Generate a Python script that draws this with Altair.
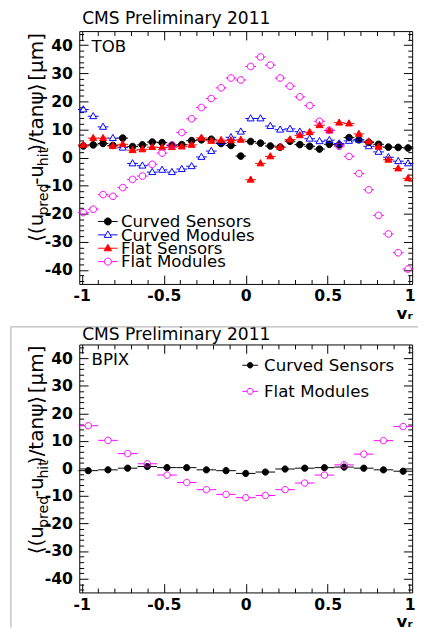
import altair as alt
import pandas as pd

# ---------------- data ----------------
series_top = ["Curved Sensors", "Curved Modules", "Flat Sensors", "Flat Modules"]
x_top = [-0.99, -0.93, -0.87, -0.81, -0.75, -0.69, -0.63, -0.57, -0.51, -0.45,
         -0.39, -0.33, -0.27, -0.21, -0.15, -0.09, -0.03, 0.03, 0.09, 0.15,
         0.21, 0.27, 0.33, 0.39, 0.45, 0.51, 0.57, 0.63, 0.69, 0.75,
         0.81, 0.87, 0.93, 0.99]
curved_sensors_top = [4.1, 4.5, 5.0, 4.3, 6.9, 3.9, 4.5, 5.5, 5.3, 4.3,
                      4.6, 6.0, 6.3, 6.5, 5.0, 4.3, 0.5, 5.7, 5.1, 4.1,
                      3.7, 5.8, 4.6, 4.0, 3.0, 4.7, 4.5, 7.1, 6.3, 5.4,
                      4.7, 3.7, 3.6, 3.4]
curved_modules_top = [17.1, 14.7, 10.9, 6.9, 3.5, -2.1, -2.9, -5.2, -4.4, -5.2,
                      -4.1, -3.1, 0.2, 2.3, 5.5, 7.2, 9.2, 13.9, 13.9, 11.2,
                      9.9, 10.2, 9.2, 6.7, 5.8, 6.2, 5.0, 5.9, 6.3, 4.0,
                      2.0, 0.1, -1.3, -2.1]
flat_sensors_top = [4.5, 6.9, 6.9, 4.1, 4.7, 2.6, 2.9, 3.7, 3.6, 3.7,
                    3.9, 4.5, 7.0, 5.9, 6.2, 6.1, 6.3, -7.9, -2.1, 0.4,
                    3.7, 6.4, 7.9, 9.0, 11.5, 9.6, 12.4, 12.1, 8.4, 5.7,
                    3.8, -0.8, -3.9, -7.4]
flat_modules_top = [-19.6, -18.4, -13.2, -13.8, -10.7, -7.8, -6.6, -2.4, 1.6, 4.5,
                    8.9, 13.8, 17.8, 21.0, 24.8, 28.3, 27.6, 32.4, 35.8, 32.9,
                    28.3, 25.4, 21.6, 18.5, 12.9, 9.7, 4.0, 0.4, -5.7, -11.5,
                    -20.6, -27.2, -33.9, -39.7]

series_bot = ["Curved Sensors", "Flat Modules"]
x_bot = [-0.96, -0.84, -0.72, -0.60, -0.48, -0.36, -0.24, -0.12, 0.0,
         0.12, 0.24, 0.36, 0.48, 0.60, 0.72, 0.84, 0.96]
curved_sensors_bot = [-0.8, -0.5, 0.1, 0.7, 0.3, 0.3, -0.5, -0.8, -1.8,
                      -1.3, -0.2, 0.1, 0.3, 0.5, 0.1, -0.5, -1.0]
flat_modules_bot = [15.5, 10.2, 5.4, 1.7, -2.4, -5.1, -7.7, -9.4, -10.6,
                    -9.8, -7.7, -5.3, -2.4, 1.3, 5.2, 10.1, 15.2]

x_label_values = [-1, -0.5, 0, 0.5, 1]
y_label_values = [-40, -30, -20, -10, 0, 10, 20, 30, 40]
x_tick_values = [-1.0, -0.9, -0.8, -0.7, -0.6, -0.5, -0.4, -0.3, -0.2, -0.1, 0.0,
                 0.1, 0.2, 0.3, 0.4, 0.5, 0.6, 0.7, 0.8, 0.9, 1.0]
y_tick_values = [-44, -42, -40, -38, -36, -34, -32, -30, -28, -26, -24, -22, -20,
                 -18, -16, -14, -12, -10, -8, -6, -4, -2, 0, 2, 4, 6, 8, 10, 12,
                 14, 16, 18, 20, 22, 24, 26, 28, 30, 32, 34, 36, 38, 40, 42, 44]

title_text = "CMS Preliminary 2011"
y_title_pieces = [("⟨(u", False), ("pred", True), ("-u", False), ("hit", True),
                  (")/tanψ⟩", False), (" [µm]", False)]


def long_df(xs, names, cols):
    rows = []
    for name, vals in zip(names, cols):
        for xv, yv in zip(xs, vals):
            rows.append({"v": xv, "val": yv, "series": name})
    return pd.DataFrame(rows)


df_top = long_df(x_top, series_top,
                 [curved_sensors_top, curved_modules_top, flat_sensors_top, flat_modules_top])
df_bot = long_df(x_bot, series_bot, [curved_sensors_bot, flat_modules_bot])

# ---------------- styling helpers ----------------
W = 341
H_TOP = 259
H_BOT = 254
FONT = "DejaVu Sans"
XS = alt.Scale(domain=[-1.015, 1.015], nice=False, zero=False)
YS = alt.Scale(domain=[-45, 45], nice=False, zero=False)


def circle_path(r):
    return (f"M-1,0L{-r},0M{r},0L1,0"
            f"M{-r},0A{r},{r},0,1,0,{r},0A{r},{r},0,1,0,{-r},0Z")


def triangle_path(top, bottom, half):
    cut = half * top / (top + bottom)
    return (f"M-1,0L{-cut:.3f},0M{cut:.3f},0L1,0"
            f"M0,{-top}L{half},{bottom}L{-half},{bottom}Z")


CW = {"⟨": 0.39, "⟩": 0.39, "(": 0.39, ")": 0.39, "u": 0.634, "-": 0.361,
      "/": 0.337, "t": 0.392, "a": 0.613, "n": 0.634, "ψ": 0.70, " ": 0.318,
      "[": 0.39, "]": 0.39, "µ": 0.636, "m": 0.974, "p": 0.635, "r": 0.411,
      "e": 0.615, "d": 0.635, "h": 0.634, "i": 0.278}


def tick_axis(orient, offset, values, test):
    return alt.Axis(orient=orient, offset=offset, values=values, labels=False,
                    domain=False, grid=False, ticks=True, title=None,
                    tickColor="black", tickWidth=1,
                    tickSize={"condition": {"test": test, "value": 9}, "value": 4.5})


def text_layer(txt, px, py, size=17, weight="normal"):
    return alt.Chart(pd.DataFrame({"t": [txt]})).mark_text(
        font=FONT, fontSize=size, fontWeight=weight, align="left",
        baseline="alphabetic", color="black"
    ).encode(text="t:N", x=alt.value(px), y=alt.value(py))


def panel(df, names, colors, fills, paths, size, leg, label, H, title_y, ytitle_end):
    xt = "abs(datum.value*2 - round(datum.value*2)) < 0.001"
    yt = "abs(datum.value % 10) < 0.001"
    x_axis = alt.Axis(orient="bottom", values=x_label_values, ticks=False, domain=False,
                      grid=False, labelFont=FONT, labelFontWeight="bold", labelFontSize=16,
                      labelColor="black", labelPadding=4, labelFlush=False,
                      labelExpr="'' + datum.value", title="vᵣ", titleFont=FONT,
                      titleFontWeight="bold", titleFontSize=17, titleColor="black",
                      titleAnchor="end", titleAlign="right", titlePadding=2)
    y_axis = alt.Axis(orient="left", values=y_label_values, ticks=False, domain=False,
                      grid=False, labelFont=FONT, labelFontWeight="bold", labelFontSize=16,
                      labelColor="black", labelPadding=7, labelFlush=False,
                      labelExpr="'' + datum.value", title=None)
    pts = alt.Chart(df).mark_point(opacity=1, fillOpacity=1, strokeWidth=1).encode(
        x=alt.X("v:Q", scale=XS, axis=x_axis),
        y=alt.Y("val:Q", scale=YS, axis=y_axis),
        shape=alt.Shape("series:N", scale=alt.Scale(domain=names, range=paths), legend=None),
        stroke=alt.Stroke("series:N", scale=alt.Scale(domain=names, range=colors), legend=None),
        fill=alt.Fill("series:N", scale=alt.Scale(domain=names, range=fills), legend=None),
        size=alt.value(size),
    )
    base = alt.Chart(df).mark_point(opacity=0, size=1)
    helpers = [
        base.encode(x=alt.X("v:Q", scale=XS, axis=None),
                    y=alt.Y("val:Q", scale=YS, axis=tick_axis("right", -W, y_tick_values, yt))),
        base.encode(x=alt.X("v:Q", scale=XS, axis=None),
                    y=alt.Y("val:Q", scale=YS, axis=tick_axis("left", -W, y_tick_values, yt))),
        base.encode(x=alt.X("v:Q", scale=XS, axis=tick_axis("top", -H, x_tick_values, xt)),
                    y=alt.Y("val:Q", scale=YS, axis=None)),
        base.encode(x=alt.X("v:Q", scale=XS, axis=tick_axis("bottom", -H, x_tick_values, xt)),
                    y=alt.Y("val:Q", scale=YS, axis=None)),
    ]

    # legend: marker-with-line symbols and labels, one row per series
    leg_df = pd.DataFrame({"series": names, "ly": leg["rows"]})
    leg_sym = alt.Chart(leg_df).mark_point(opacity=1, fillOpacity=1, strokeWidth=1).encode(
        x=alt.value(leg["sx"]),
        y=alt.Y("ly:Q", scale=None, axis=None),
        shape=alt.Shape("series:N", scale=alt.Scale(domain=names, range=leg["paths"]), legend=None),
        stroke=alt.Stroke("series:N", scale=alt.Scale(domain=names, range=colors), legend=None),
        fill=alt.Fill("series:N", scale=alt.Scale(domain=names, range=fills), legend=None),
        size=alt.value(leg["size"]),
    )
    leg_txt = alt.Chart(leg_df).mark_text(
        font=FONT, fontSize=17, align="left", baseline="middle", color="black", dy=1
    ).encode(text="series:N", x=alt.value(leg["tx"]), y=alt.Y("ly:Q", scale=None, axis=None))

    # panel label (TOB / BPIX) placed in the upper-left corner of the frame
    lab = alt.Chart(pd.DataFrame({"t": [label]})).mark_text(
        font=FONT, fontSize=17, align="left", baseline="alphabetic", color="black"
    ).encode(text="t:N",
             x=alt.X(datum=-0.94, scale=XS, axis=None),
             y=alt.Y(datum=37.5, scale=YS, axis=None))
    ttl = text_layer(title_text, 3, title_y, size=17.5)

    # y title with subscripts, built from pieces running bottom-to-top
    main_fs, sub_fs = 20.5, 14.5
    widths = [sum(CW.get(c, 0.6) for c in s) * (sub_fs if sub else main_fs) * 0.93
              for s, sub in y_title_pieces]
    rows_main, rows_sub = [], []
    for k, (s, sub) in enumerate(y_title_pieces):
        anchor = ytitle_end + sum(widths[k + 1:])
        (rows_sub if sub else rows_main).append({"t": s, "py": anchor})
    ttl_main = alt.Chart(pd.DataFrame(rows_main)).mark_text(
        font=FONT, fontSize=main_fs, angle=270, align="right", baseline="alphabetic",
        color="black"
    ).encode(text="t:N", y=alt.Y("py:Q", scale=None, axis=None), x=alt.value(-37))
    ttl_sub = alt.Chart(pd.DataFrame(rows_sub)).mark_text(
        font=FONT, fontSize=sub_fs, angle=270, align="right", baseline="alphabetic",
        color="black"
    ).encode(text="t:N", y=alt.Y("py:Q", scale=None, axis=None), x=alt.value(-32))

    return [pts] + helpers + [leg_sym, leg_txt, lab, ttl, ttl_main, ttl_sub]


leg_top = {"rows": [195, 208.7, 222.4, 236.1], "sx": 29.3, "tx": 42.7, "size": 400,
           "paths": [circle_path(0.36), triangle_path(0.4, 0.26, 0.38),
                     triangle_path(0.4, 0.26, 0.38), circle_path(0.36)]}
leg_bot = {"rows": [21.3, 48], "sx": 175, "tx": 189.3, "size": 256,
           "paths": [circle_path(0.35), circle_path(0.38)]}

top_layers = panel(
    df_top, series_top,
    ["#000000", "#0000ff", "#ff0000", "#ff00ff"],
    ["#000000", "transparent", "#ff0000", "transparent"],
    [circle_path(0.62), triangle_path(0.7, 0.45, 0.65),
     triangle_path(0.7, 0.45, 0.65), circle_path(0.62)],
    121, leg_top, "TOB", H_TOP, -7, 2)
top = alt.layer(*top_layers).resolve_axis(
    x="independent", y="independent"
).resolve_scale(
    shape="independent", stroke="independent", fill="independent"
).properties(width=W, height=H_TOP)

bot_layers = panel(
    df_bot, series_bot,
    ["#000000", "#ff00ff"],
    ["#000000", "transparent"],
    [circle_path(0.32), circle_path(0.33)],
    400, leg_bot, "BPIX", H_BOT, -5, 1)
border = alt.Chart(pd.DataFrame({"a": [0]})).mark_rule(color="#a8a8a8", strokeWidth=1)
bot_layers.append(border.encode(x=alt.value(-70), x2=alt.value(347),
                                y=alt.value(-18), y2=alt.value(-18)))
bot_layers.append(border.encode(x=alt.value(-70), x2=alt.value(-70),
                                y=alt.value(-18), y2=alt.value(290)))
bottom = alt.layer(*bot_layers).resolve_axis(
    x="independent", y="independent"
).resolve_scale(
    shape="independent", stroke="independent", fill="independent"
).properties(width=W, height=H_BOT)

chart = alt.vconcat(top, bottom, spacing=3).resolve_scale(
    shape="independent", stroke="independent", fill="independent"
).properties(
    padding={"left": 2, "top": -6, "right": 0, "bottom": 0}
).configure_view(stroke="black", strokeWidth=1)

chart.save("out.html", embed_options={"renderer": "svg", "actions": False})
